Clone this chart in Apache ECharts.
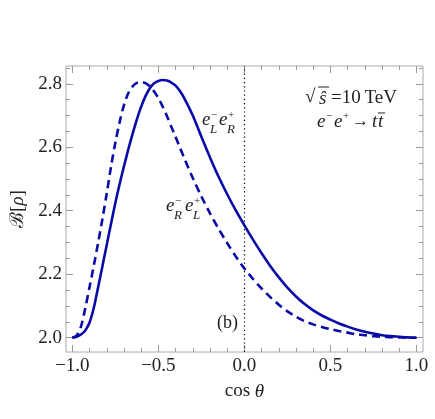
<!DOCTYPE html>
<html><head><meta charset="utf-8">
<script src="https://cdn.jsdelivr.net/npm/echarts@6/dist/echarts.min.js"></script>
<style>html,body{margin:0;padding:0;background:#fff}#c{width:435px;height:419px}</style>
</head><body><div id="c"></div>
<script>
// cos(theta) sample points
const cosTheta = [-1.0,-0.975,-0.95,-0.925,-0.9,-0.875,-0.85,-0.825,-0.8,-0.775,-0.75,-0.725,-0.7,-0.675,-0.65,-0.625,-0.6,-0.575,-0.55,-0.525,-0.5,-0.475,-0.45,-0.425,-0.4,-0.375,-0.35,
  -0.3,-0.25,-0.2,-0.15,-0.1,-0.05,0,0.05,0.1,0.15,0.2,0.25,0.3,0.35,0.4,0.45,0.5,0.55,0.6,0.65,0.7,0.75,0.8,0.85,0.9,0.95,1.0];
// e_L^- e_R^+ (solid)
const bLR = [2.000,2.003,2.010,2.023,2.048,2.095,2.160,2.226,2.293,2.360,2.425,2.485,2.540,2.593,2.642,2.688,2.728,2.761,2.786,2.802,2.809,2.812,2.810,2.804,2.794,2.777,2.755,
  2.700,2.633,2.568,2.507,2.452,2.401,2.354,2.309,2.266,2.226,2.190,2.158,2.130,2.106,2.086,2.070,2.057,2.045,2.035,2.026,2.019,2.013,2.008,2.005,2.003,2.001,2.000];
// e_R^- e_L^+ (dashed)
const bRL = [2.000,2.007,2.035,2.093,2.160,2.228,2.300,2.375,2.455,2.540,2.615,2.680,2.733,2.770,2.792,2.803,2.806,2.802,2.792,2.776,2.755,2.728,2.698,2.665,2.632,2.599,2.566,
  2.503,2.445,2.392,2.343,2.298,2.256,2.218,2.185,2.155,2.128,2.104,2.083,2.066,2.052,2.042,2.034,2.027,2.021,2.016,2.011,2.008,2.005,2.003,2.002,2.001,2.000,2.000];
const xMajor = [-1.0,-0.5,0.0,0.5,1.0];
const xMinor = [-1.0,-0.9,-0.8,-0.7,-0.6,-0.5,-0.4,-0.3,-0.2,-0.1,0,0.1,0.2,0.3,0.4,0.5,0.6,0.7,0.8,0.9,1.0];
const yMajor = [2.0,2.2,2.4,2.6,2.8];
const yMinor = [2.0,2.05,2.1,2.15,2.2,2.25,2.3,2.35,2.4,2.45,2.5,2.55,2.6,2.65,2.7,2.75,2.8,2.85];

const serif = '"Liberation Serif","DejaVu Serif",serif';
const tickColor = '#999';
const lineColor = '#0a0aa8';
const fmt = v => { const s = v.toFixed(1); return v < 0 ? '\u2212' + s.slice(1) : s; };

function xAx(pos, vals, len, labels, extra) {
  return Object.assign({
    type: 'value', position: pos, min: -1.037, max: 1.038,
    axisLine: {show: false, onZero: false}, splitLine: {show: false},
    axisTick: {show: true, inside: true, length: len, customValues: vals, lineStyle: {color: tickColor}},
    axisLabel: labels ? {show: true, customValues: xMajor, formatter: fmt, fontFamily: serif, fontSize: 19, color: '#222', margin: 5} : {show: false}
  }, extra || {});
}
function yAx(pos, vals, len, labels, extra) {
  return Object.assign({
    type: 'value', position: pos, min: 1.955, max: 2.856,
    axisLine: {show: false, onZero: false}, splitLine: {show: false},
    axisTick: {show: true, inside: true, length: len, customValues: vals, lineStyle: {color: tickColor}},
    axisLabel: labels ? {show: true, customValues: yMajor, formatter: v => v.toFixed(1), fontFamily: serif, fontSize: 19, color: '#222', margin: 4} : {show: false}
  }, extra || {});
}

const chart = echarts.init(document.getElementById('c'), null, {renderer: 'canvas'});
const txt = (x, y, s, size, italic, align) => ({
  type: 'text', x: x, y: y,
  style: {text: s, font: (italic ? 'italic ' : '') + size + 'px ' + serif, fill: '#222', textAlign: align || 'left', textVerticalAlign: 'middle'}
});
const nameStyle = {fontFamily: serif, fontSize: 19, color: '#222',
  rich: {n: {fontFamily: serif, fontSize: 19, color: '#222'}, i: {fontFamily: serif, fontSize: 19, fontStyle: 'italic', color: '#222'}}};
chart.setOption({
  animation: false,
  grid: {left: 66, right: 12, top: 66, bottom: 67, show: true, borderColor: '#aaa', borderWidth: 1, backgroundColor: 'transparent'},
  xAxis: [
    xAx('bottom', xMajor, 7, true, {name: '{n|cos }{i|\u03b8}', nameLocation: 'middle', nameGap: 30, nameTextStyle: nameStyle}),
    xAx('bottom', xMinor, 4, false),
    xAx('top', xMajor, 7, false),
    xAx('top', xMinor, 4, false)
  ],
  yAxis: [
    yAx('left', yMajor, 7, true, {name: '{n|\u212c[}{i|\u03c1}{n|]}', nameLocation: 'middle', nameGap: 38, nameRotate: 90, nameTextStyle: nameStyle}),
    yAx('left', yMinor, 4, false),
    yAx('right', yMajor, 7, false),
    yAx('right', yMinor, 4, false)
  ],
  series: [
    {type: 'line', name: 'LR', smooth: 0.3, showSymbol: false, symbol: 'none',
     data: cosTheta.map((c, i) => [c, bLR[i]]),
     lineStyle: {color: lineColor, width: 2.6},
     markLine: {silent: true, symbol: 'none', label: {show: false},
       lineStyle: {color: '#000', type: [1.2, 3], width: 1.2}, data: [{xAxis: 0}]}},
    {type: 'line', name: 'RL', smooth: 0.3, showSymbol: false, symbol: 'none',
     data: cosTheta.map((c, i) => [c, bRL[i]]),
     lineStyle: {color: lineColor, width: 2.6, type: [8, 5]}}
  ],
  graphic: [
    // sqrt(s-hat) = 10 TeV
    txt(305, 97, '\u221a', 19, false),
    {type: 'line', shape: {x1: 318, y1: 87, x2: 329, y2: 87}, style: {stroke: '#222', lineWidth: 1}},
    txt(319, 99, 's\u0302', 19, true),
    txt(331, 98, '=10\u2009TeV', 19, false),
    // e- e+ -> t tbar
    txt(317, 122, 'e', 19, true),
    txt(326, 116, '\u2212', 11, false),
    txt(334, 122, 'e', 19, true),
    txt(343, 116, '+', 11, false),
    txt(352, 122, '\u2192', 17, false),
    txt(372, 122, 't', 19, true),
    txt(378, 122, 't', 19, true),
    {type: 'line', shape: {x1: 378, y1: 113, x2: 385, y2: 113}, style: {stroke: '#222', lineWidth: 1}},
    // e_L^- e_R^+
    txt(202, 120, 'e', 19, true),
    txt(211, 115, '\u2212', 11, false),
    txt(210, 130, 'L', 13, true),
    txt(219, 120, 'e', 19, true),
    txt(228, 115, '+', 11, false),
    txt(227, 130, 'R', 13, true),
    // e_R^- e_L^+
    txt(166, 206, 'e', 19, true),
    txt(175, 201, '\u2212', 11, false),
    txt(174, 216, 'R', 13, true),
    txt(185, 206, 'e', 19, true),
    txt(194, 201, '+', 11, false),
    txt(193, 216, 'L', 13, true),
    // (b)
    txt(217, 323, '(b)', 18, false)
  ]
});
</script></body></html>
